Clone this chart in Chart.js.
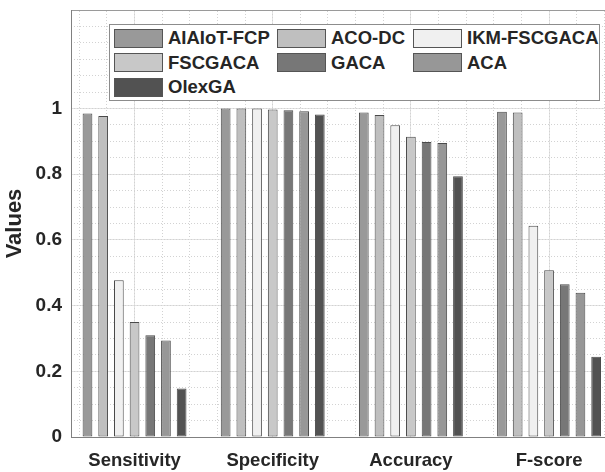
<!DOCTYPE html>
<html>
<head>
<meta charset="utf-8">
<script src="https://cdn.jsdelivr.net/npm/chart.js@4.4.0/dist/chart.umd.min.js"></script>
<style>
html, body { margin: 0; padding: 0; background: #fff; overflow: hidden; }
#wrap { position: relative; width: 614px; height: 472px; }
#legend {
    position: absolute; left: 109px; top: 24px; width: 491px; height: 77px;
    box-sizing: border-box; border: 1px solid #8c8c8c; background: #fff;
    padding: 1px 0 0 4px;
    display: grid; grid-template-columns: 163px 136px auto; grid-auto-rows: 24.6px;
    font: bold 18.5px "Liberation Sans", Arial, sans-serif; color: #262626;
}
.item { display: flex; align-items: center; white-space: nowrap; }
.swatch { width: 49px; height: 19px; box-sizing: border-box; border: 1px solid #555; margin-right: 5px; }
</style>
</head>
<body>
<div id="wrap">
    <canvas id="chart" width="614" height="472"></canvas>
    <div id="legend"></div>
</div>
<script>
var categories = ['Sensitivity', 'Specificity', 'Accuracy', 'F-score'];
var methods = ['AIAIoT-FCP', 'ACO-DC', 'IKM-FSCGACA', 'FSCGACA', 'GACA', 'ACA', 'OlexGA'];

// one array per method, in the order of categories
var aiaiotFcp = [0.985, 1.000, 0.988, 0.990];
var acoDc = [0.977, 1.000, 0.980, 0.988];
var ikmFscgaca = [0.477, 1.000, 0.949, 0.643];
var fscgaca = [0.350, 0.997, 0.914, 0.508];
var gaca = [0.310, 0.995, 0.898, 0.465];
var aca = [0.294, 0.992, 0.895, 0.439];
var olexGa = [0.148, 0.982, 0.794, 0.244];
var seriesValues = [aiaiotFcp, acoDc, ikmFscgaca, fscgaca, gaca, aca, olexGa];

var fillColors = ['#999999', '#bfbfbf', '#f0f0f0', '#c8c8c8', '#777777', '#979797', '#525252'];

var yTickValues = [0, 0.2, 0.4, 0.6, 0.8, 1];
var yTickLabels = ['0', '0.2', '0.4', '0.6', '0.8', '1'];

var X_MIN = -0.46, X_MAX = 3.47;
var Y_MIN = 0, Y_MAX = 1.3;
var textColor = '#262626';
var fontFamily = '"Liberation Sans", Arial, sans-serif';

var datasets = [];
for (var s = 0; s < methods.length; s++) {
    datasets.push({
        label: methods[s],
        data: seriesValues[s].map(function (v, i) { return {x: i, y: v}; }),
        backgroundColor: fillColors[s],
        borderColor: '#4a4a4a',
        borderWidth: 1,
        borderSkipped: false,
        categoryPercentage: 0.795,
        barPercentage: 0.62,
        xAxisID: 'x',
        yAxisID: 'y'
    });
}

// minor grid positions (dotted lines)
function stepTicks(min, max, step) {
    var out = [];
    for (var k = Math.ceil(min / step - 1e-9); k * step <= max + 1e-9; k++) {
        out.push({value: +(k * step).toFixed(4)});
    }
    return out;
}

var ctx = document.getElementById('chart').getContext('2d');
var chart = new Chart(ctx, {
    type: 'bar',
    data: {datasets: datasets},
    options: {
        responsive: false,
        animation: false,
        devicePixelRatio: 1,
        layout: {padding: 0},
        plugins: {legend: {display: false}, tooltip: {enabled: false}},
        scales: {
            x: {
                type: 'linear', position: 'bottom', min: X_MIN, max: X_MAX, offset: false,
                afterBuildTicks: function (scale) {
                    scale.ticks = categories.map(function (c, i) { return {value: i}; });
                },
                afterFit: function (scale) {
                    scale.height = 35;
                    scale.paddingLeft = 0;
                    scale.paddingRight = 0;
                },
                ticks: {
                    callback: function (value) { return categories[value]; },
                    autoSkip: false, maxRotation: 0, padding: 13, color: textColor,
                    font: {family: fontFamily, size: 18.5, weight: 'bold'}
                },
                grid: {offset: false, color: '#e3e3e3', drawTicks: false},
                border: {color: '#808080', width: 1}
            },
            x2: {
                type: 'linear', position: 'top', min: X_MIN, max: X_MAX, offset: false,
                afterBuildTicks: function (scale) { scale.ticks = stepTicks(X_MIN, X_MAX, 0.2); },
                afterFit: function (scale) {
                    scale.height = 10;
                    scale.paddingLeft = 0;
                    scale.paddingRight = 0;
                },
                ticks: {display: false},
                grid: {offset: false, color: '#d2d2d2', drawTicks: false},
                border: {color: '#9a9a9a', width: 1, dash: [1, 2]}
            },
            y: {
                type: 'linear', position: 'left', min: Y_MIN, max: Y_MAX,
                afterBuildTicks: function (scale) {
                    scale.ticks = yTickValues.map(function (v) { return {value: v}; });
                },
                afterFit: function (scale) {
                    scale.width = 71;
                    scale.paddingTop = 0;
                    scale.paddingBottom = 0;
                },
                ticks: {
                    callback: function (value, index) { return yTickLabels[index]; },
                    padding: 9, color: textColor,
                    font: {family: fontFamily, size: 19, weight: 'bold'}
                },
                grid: {color: '#e3e3e3', drawTicks: false},
                border: {color: '#808080', width: 1},
                title: {
                    display: true, text: 'Values', color: textColor,
                    font: {family: fontFamily, size: 22, weight: 'bold'},
                    padding: {top: 2, bottom: 0}
                }
            },
            y2: {
                type: 'linear', position: 'right', min: Y_MIN, max: Y_MAX,
                afterBuildTicks: function (scale) { scale.ticks = stepTicks(Y_MIN, Y_MAX, 0.05); },
                afterFit: function (scale) {
                    scale.width = 0;
                    scale.paddingTop = 0;
                    scale.paddingBottom = 0;
                },
                ticks: {display: false},
                grid: {color: '#d2d2d2', drawTicks: false},
                border: {display: false, dash: [1, 2]}
            }
        }
    }
});

// legend in three columns, built from the chart's datasets
var legendBox = document.getElementById('legend');
chart.data.datasets.forEach(function (ds) {
    var item = document.createElement('div');
    item.className = 'item';
    var sw = document.createElement('span');
    sw.className = 'swatch';
    sw.style.background = ds.backgroundColor;
    var txt = document.createElement('span');
    txt.textContent = ds.label;
    item.appendChild(sw);
    item.appendChild(txt);
    legendBox.appendChild(item);
});
</script>
</body>
</html>
